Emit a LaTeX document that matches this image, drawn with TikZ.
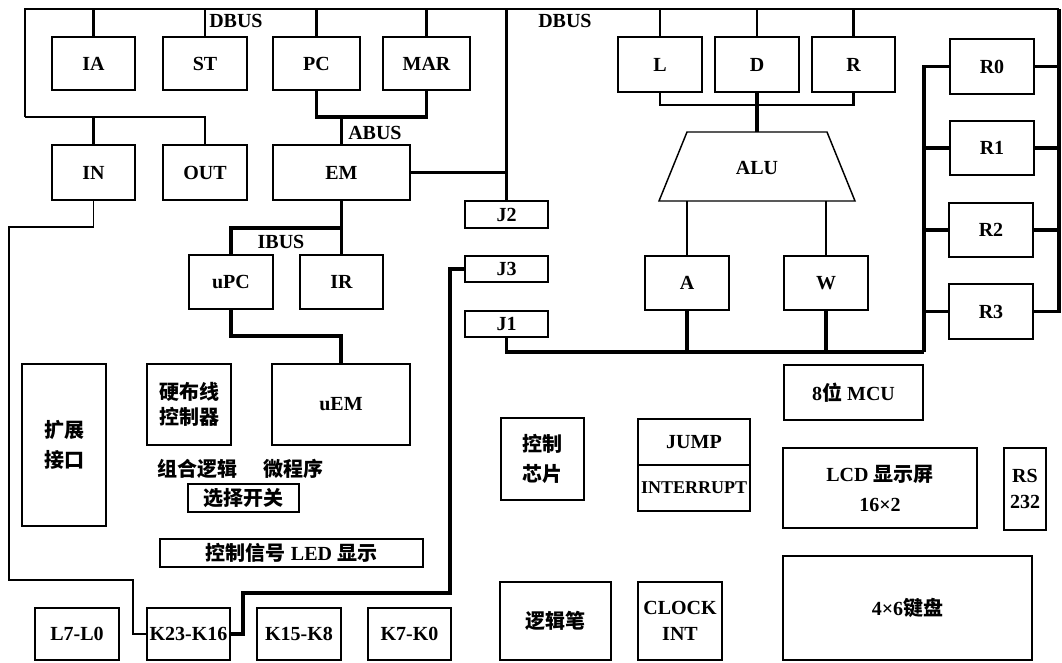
\documentclass[tikz,border=0pt]{standalone}
\usepackage{fontspec}
\setmainfont{Liberation Serif}
\newfontfamily\cjk{Noto Sans CJK SC}
\newcommand\bx[7][]{%
  \pgfmathsetmacro\bxw{(#5-#3)*0.75}%
  \pgfmathsetmacro\bxh{(#6-#4)*0.75}%
  \node[blk,#1,minimum width=\bxw pt,minimum height=\bxh pt] (#2) at ({(#3+#5)/2},{(#4+#6)/2}) {#7};}
\begin{document}
\begin{tikzpicture}[x=0.75pt,y=-0.75pt,line join=miter,
  blk/.style={draw,line width=1.1pt,inner sep=0pt,outer sep=0pt,align=center,
    font=\fontsize{15}{19}\selectfont\bfseries},
  wide/.style={font=\fontsize{15}{22.5}\selectfont\bfseries},
  cjkb/.style={font=\fontsize{15}{19}\selectfont\cjk\bfseries},
  cjkw/.style={font=\fontsize{15}{22.5}\selectfont\cjk\bfseries},
  thin/.style={line width=1.2pt},
  med/.style={line width=1.8pt},
  thk/.style={line width=2.8pt},
  lbl/.style={font=\fontsize{15}{17}\selectfont\bfseries,inner sep=0pt},
  cn/.style={font=\fontsize{15}{17}\selectfont\cjk\bfseries,inner sep=0pt}]
\useasboundingbox (0,0) rectangle (1062,662);
% ---- boxes
\bx{IA}{52}{37}{135}{90}{IA}
\bx{ST}{163}{37}{247}{90}{ST}
\bx{PC}{273}{37}{360}{90}{PC}
\bx{MAR}{383}{37}{470}{90}{MAR}
\bx{IN}{52}{145}{135}{200}{IN}
\bx{OUT}{163}{145}{247}{200}{OUT}
\bx{EM}{273}{145}{410}{200}{EM}
\bx{L}{618}{37}{702}{92}{L}
\bx{D}{715}{37}{799}{92}{D}
\bx{R}{812}{37}{895}{92}{R}
\bx{R0}{950}{39}{1034}{94}{R0}
\bx{R1}{950}{121}{1034}{175}{R1}
\bx{R2}{949}{203}{1033}{257}{R2}
\bx{R3}{949}{284}{1033}{339}{R3}
\bx{J2}{465}{201}{548}{228}{J2}
\bx{J3}{465}{256}{548}{282}{J3}
\bx{J1}{465}{311}{548}{337}{J1}
\bx{uPC}{189}{255}{273}{309}{uPC}
\bx{IR}{300}{255}{383}{309}{IR}
\bx{A}{645}{256}{729}{310}{A}
\bx{W}{784}{256}{868}{310}{W}
\bx{uEM}{272}{364}{410}{445}{uEM}
\bx[cjkb]{HW}{147}{364}{231}{445}{硬布线\\控制器}
\bx[cjkw]{EXT}{22}{364}{106}{526}{扩展\\接口}
\bx[cjkb]{SEL}{188}{484}{299}{512}{选择开关}
\bx{LED}{160}{539}{423}{567}{{\cjk 控制信号} LED {\cjk 显示}}
\bx[cjkw]{CHIP}{501}{418}{584}{500}{控制\\芯片}
\bx{JUMP}{638}{419}{750}{465}{JUMP}
\bx[font=\fontsize{13.5}{16}\selectfont\bfseries]{INT}{638}{465}{750}{511}{INTERRUPT}
\bx{MCU}{784}{365}{923}{420}{8{\cjk 位} MCU}
\bx[wide]{LCD}{783}{448}{977}{528}{LCD {\cjk 显示屏}\\16×2}
\bx{RS}{1004}{448}{1046}{530}{RS\\232}
\bx{KB}{783}{556}{1032}{660}{4×6{\cjk 键盘}}
\bx[cjkb]{PEN}{500}{582}{611}{660}{逻辑笔}
\bx{CLK}{638}{582}{722}{660}{CLOCK\\INT}
\bx{L7}{35}{608}{119}{660}{L7-L0}
\bx{K23}{147}{608}{230}{660}{K23-K16}
\bx{K15}{257}{608}{341}{660}{K15-K8}
\bx{K7}{368}{608}{451}{660}{K7-K0}
% ---- ALU
\coordinate (alutl) at (687,132);
\coordinate (alutr) at (827,132);
\coordinate (alubr) at (855,201);
\coordinate (alubl) at (659,201);
\draw[line width=1.1pt] (alutl) -- (alutr) -- (alubr) -- (alubl) -- cycle;
\node[lbl] (ALU) at (757,168) {ALU};
\coordinate (alut) at (757,132);
\coordinate (alub) at (757,201);
% ---- labels
\node[lbl,anchor=west] (dbus1) at (209,21) {DBUS};
\node[lbl,anchor=west] (dbus2) at (538,21) {DBUS};
\node[lbl,anchor=west] (abus) at (348,133) {ABUS};
\node[lbl] (ibus) at (281,242) {IBUS};
\node[cn] (zh) at (197,469) {组合逻辑};
\node[cn] (wc) at (293,469) {微程序};
% ---- DBUS
\coordinate (tl) at (25,9);
\coordinate (tr) at (1059,9);
\coordinate (lb) at (25,117);
\draw[med] (lb) -- (tl) -- (tr);
\draw[med] (lb) -| (OUT.north);
\draw[med] (IN.north) -- (IN.north |- lb);
\foreach \n in {IA,ST,PC,MAR,L,D,R} \draw[med] (\n.north) -- (\n.north |- tl);
\draw[med] (J2.north |- tl) -- (J2.north);
\draw[med] (EM.east) -- (EM.east -| J2.north);
\draw[thk] (tr) -- (tr |- R3.east) -- (R3.east);
\foreach \n in {R0,R1,R2} \draw[thk] (\n.east) -- (\n.east -| tr);
% ---- ABUS
\coordinate (ab) at (342,117);
\draw[thk] (PC.south) -- (PC.south |- ab) -- (MAR.south |- ab) -- (MAR.south);
\draw[thk] (EM.north) -- (EM.north |- ab);
% ---- IBUS
\coordinate (ib) at (342,228);
\draw[thk] (EM.south) -- (IR.north);
\draw[thk] (uPC.north) -- (uPC.north |- ib) -- (EM.south |- ib);
\coordinate (um) at (342,336);
\draw[thk] (uPC.south) -- (uPC.south |- um) -- (uEM.north |- um) -- (uEM.north);
% ---- IN to K23-K16
\coordinate (c1) at (9,227);
\coordinate (c2) at (133,580);
\draw[thin] (IN.south) |- (c1) |- (c2) |- (K23.west);
% ---- J3 to K23-K16
\coordinate (c3) at (450,593);
\coordinate (c4) at (243,634);
\draw[thk] (J3.west) -| (c3) -| (c4) -- (K23.east);
% ---- ALU connections
\coordinate (lr) at (757,105);
\draw[med] (L.south) -- (L.south |- lr) -- (R.south |- lr) -- (R.south);
\draw[thk] (D.south) -- (alut);
\draw[med] (A.north) -- (A.north |- alub);
\draw[med] (W.north) -- (W.north |- alub);
% ---- lower bus
\coordinate (bb) at (924,352);
\draw[thk] (J1.south) |- (bb);
\draw[thk] (A.south) -- (A.south |- bb);
\draw[thk] (W.south) -- (W.south |- bb);
\draw[thk] (bb) -- (bb |- R0.west) -- (R0.west);
\foreach \n in {R1,R2,R3} \draw[thk] (\n.west) -- (\n.west -| bb);
\end{tikzpicture}
\end{document}
